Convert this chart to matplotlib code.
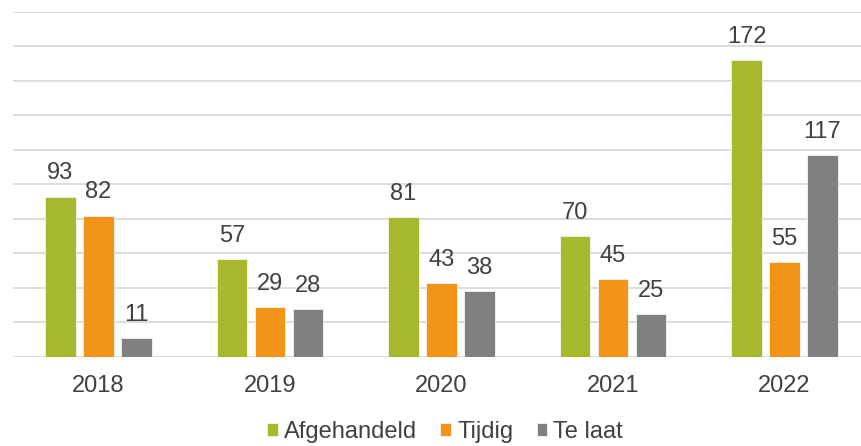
import matplotlib
matplotlib.use('Agg')
import matplotlib.pyplot as plt
import numpy as np

years = ['2018', '2019', '2020', '2021', '2022']
afgehandeld = [93, 57, 81, 70, 172]
tijdig = [82, 29, 43, 45, 55]
te_laat = [11, 28, 38, 25, 117]

series_names = ['Afgehandeld', 'Tijdig', 'Te laat']
series_colors = ['#A8B82C', '#F39419', '#808080']
text_color = '#404040'

plt.rcParams['font.family'] = ['Liberation Sans', 'DejaVu Sans']

fig = plt.figure(figsize=(8.61, 4.46), dpi=100)
ax = fig.add_axes([0.0148, 0.1996, 0.996, 0.7735])

x = np.arange(len(years))
width = 0.18
step = 0.2216

for k, (vals, name, col) in enumerate(zip([afgehandeld, tijdig, te_laat], series_names, series_colors)):
    pos = x + (k - 1) * step
    bars = ax.bar(pos, vals, width, color=col, edgecolor='#f4f4f4', linewidth=0.6, label=name, zorder=3)
    for b, v in zip(bars, vals):
        ax.text(b.get_x() + b.get_width() / 2, v + 7, str(v), ha='center', va='bottom',
                fontsize=17, color=text_color)

ax.set_xlim(-0.5, len(years) - 0.5)
ax.set_ylim(0, 200)
ax.set_yticks(np.arange(0, 201, 20))
ax.yaxis.grid(True, color='#d9d9d9', linewidth=1.3, zorder=0)
ax.set_yticklabels([])
ax.tick_params(axis='y', length=0)
ax.set_xticks(x)
ax.set_xticklabels(years, fontsize=17, color=text_color)
ax.tick_params(axis='x', length=0, pad=13)
for s in ax.spines.values():
    s.set_visible(False)

handles, labels = ax.get_legend_handles_labels()
leg = fig.legend(handles, labels, loc='center', bbox_to_anchor=(0.517, 0.031), ncol=3, frameon=False,
                 fontsize=17, handlelength=0.45, handleheight=0.45, handletextpad=0.25,
                 columnspacing=1.0, borderaxespad=0)
for t in leg.get_texts():
    t.set_color(text_color)

plt.savefig('out.png', dpi=100)
